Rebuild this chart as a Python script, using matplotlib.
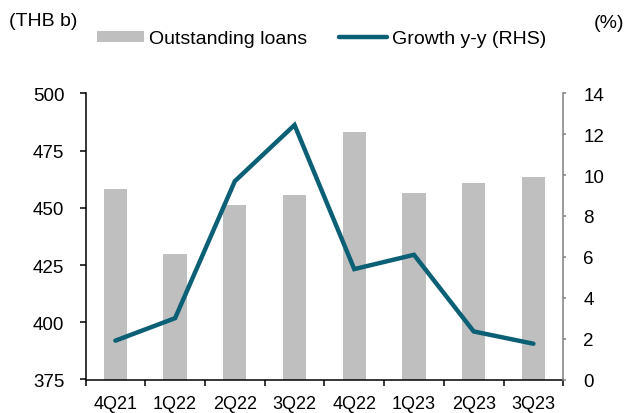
import matplotlib
matplotlib.use("Agg")
import matplotlib.pyplot as plt
import numpy as np
from matplotlib.ticker import FixedLocator

plt.rcParams['font.family'] = ['Liberation Sans', 'DejaVu Sans']

categories = ["4Q21", "1Q22", "2Q22", "3Q22", "4Q22", "1Q23", "2Q23", "3Q23"]
loans = [458, 430, 451, 455.5, 483, 456.5, 461, 463.5]
growth = [1.9, 3.0, 9.7, 12.45, 5.4, 6.1, 2.35, 1.75]

bar_color = "#BFBFBF"
line_color = "#0B6075"

W, H = 626, 414
fig = plt.figure(figsize=(W / 100, H / 100), dpi=100)
left, right, top, bottom = 85.5, 563.3, 94.3, 380.5
ax = fig.add_axes([left / W, 1 - bottom / H, (right - left) / W, (bottom - top) / H])
ax2 = ax.twinx()

x = np.arange(len(categories))
ax.bar(x, loans, width=0.39, color=bar_color, label="Outstanding loans", zorder=2)
ax2.plot(x, growth, color=line_color, lw=3.2, label="Growth y-y (RHS)",
         solid_capstyle='round', solid_joinstyle='miter')

ax.set_xlim(-0.5, len(categories) - 0.5)
ax.set_ylim(375, 500)
ax.set_yticks([375, 400, 425, 450, 475, 500])
ax2.set_ylim(0, 14)
ax2.set_yticks([0, 2, 4, 6, 8, 10, 12, 14])

ax.xaxis.set_major_locator(FixedLocator(np.arange(len(categories) + 1) - 0.5))
ax.xaxis.set_minor_locator(FixedLocator(x))
ax.set_xticklabels([], minor=False)
ax.set_xticklabels(categories, minor=True)
ax.tick_params(axis='x', which='major', direction='out', length=4, width=1.1, color='black')
ax.tick_params(axis='x', which='minor', length=0, labelsize=13, pad=11)
ax.tick_params(axis='y', direction='out', length=4.3, width=1.1, labelsize=13.5, pad=11)
ax2.tick_params(axis='y', direction='out', length=2, width=1.1, color='#808080',
                labelsize=13.5, pad=12.5)

for a in (ax, ax2):
    a.spines['top'].set_visible(False)
ax.spines['left'].set_linewidth(1.1)
ax.spines['bottom'].set_linewidth(1.1)
ax.spines['right'].set_visible(False)
ax2.spines['left'].set_visible(False)
ax2.spines['bottom'].set_visible(False)
ax2.spines['right'].set_color('#808080')
ax2.spines['right'].set_linewidth(1.1)

fig.text(9 / W, 1 - 22 / H, "(THB b)", fontsize=14, va='center', ha='left')
fig.text(624 / W, 1 - 23 / H, "(%)", fontsize=14, va='center', ha='right')

h1, l1 = ax.get_legend_handles_labels()
h2, l2 = ax2.get_legend_handles_labels()
fig.legend(h1 + h2, l1 + l2, loc='center', bbox_to_anchor=(321.3 / W, 1 - 40 / H), ncol=2,
           frameon=False, fontsize=14, handlelength=2.45, handletextpad=0.25,
           columnspacing=1.65, handleheight=0.52, borderpad=0, borderaxespad=0)

fig.savefig("out.png", dpi=100)
